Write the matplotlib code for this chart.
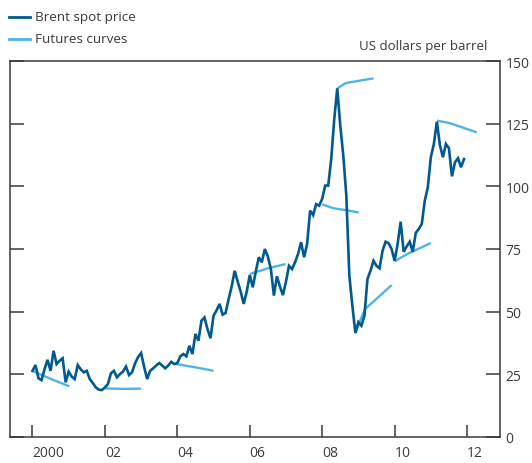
import matplotlib
matplotlib.use("Agg")
import matplotlib.pyplot as plt
from matplotlib.lines import Line2D
import numpy as np

plt.rcParams['font.family'] = ['Open Sans', 'DejaVu Sans']

# Brent spot price, monthly, Jan 2000 - Dec 2011 (US$ per barrel)
spot_2000 = [26.4, 28.7, 23.4, 22.7, 27.0, 30.8, 26.4, 34.4, 29.1, 30.4, 31.4, 21.8]
spot_2001 = [26.1, 24.1, 23.1, 28.7, 27.0, 25.8, 26.4, 23.1, 21.5, 19.8, 18.9, 18.7]
spot_2002 = [19.8, 21.1, 25.4, 26.4, 23.8, 25.1, 26.1, 28.1, 24.7, 25.8, 29.4, 31.9]
spot_2003 = [33.5, 28.0, 23.1, 26.4, 27.4, 28.5, 29.5, 28.5, 27.4, 28.5, 30.0, 29.1]
spot_2004 = [29.5, 32.2, 33.1, 32.2, 36.4, 33.1, 41.1, 38.4, 46.4, 47.7, 43.0, 39.4]
spot_2005 = [48.4, 50.5, 53.1, 48.8, 49.5, 55.0, 60.0, 66.3, 62.0, 58.0, 53.1, 58.0]
spot_2006 = [64.6, 59.7, 66.0, 71.7, 69.7, 75.0, 72.0, 67.0, 56.4, 64.1, 60.0, 56.6]
spot_2007 = [62.0, 68.3, 67.0, 69.7, 73.0, 77.7, 71.7, 77.0, 90.3, 88.5, 92.9, 92.3]
spot_2008 = [95.0, 100.3, 100.3, 110.9, 126.8, 139.1, 124.2, 112.2, 96.3, 64.3, 52.4, 41.5]
spot_2009 = [45.8, 44.4, 48.4, 63.0, 66.3, 70.3, 68.3, 67.3, 74.3, 77.9, 77.3, 75.0]
spot_2010 = [70.3, 77.0, 85.9, 73.9, 76.0, 77.9, 73.9, 81.4, 83.0, 85.0, 94.3, 99.6]
spot_2011 = [111.6, 116.9, 125.8, 116.5, 111.6, 116.9, 115.2, 104.0, 109.6, 111.2, 107.6, 110.9]
spot_start_year = 2000

# Futures curves: (decimal-year dates, US$ per barrel)
fut1_x = [2000.0, 2000.5, 2001.02]
fut1_y = [26.4, 23.2, 20.2]
fut2_x = [2002.0, 2002.5, 2003.0]
fut2_y = [19.4, 19.2, 19.3]
fut3_x = [2003.97, 2004.5, 2005.0]
fut3_y = [29.1, 27.8, 26.4]
fut4_x = [2006.0, 2006.5, 2006.99]
fut4_y = [65.0, 67.3, 69.0]
fut5_x = [2008.0, 2008.3, 2008.65, 2009.01]
fut5_y = [92.8, 91.3, 90.5, 89.6]
fut6_x = [2008.42, 2008.65, 2009.42]
fut6_y = [139.1, 141.2, 143.1]
fut7_x = [2008.92, 2009.05, 2009.18, 2009.92]
fut7_y = [41.5, 46.5, 51.0, 60.6]
fut8_x = [2010.0, 2010.35, 2011.0]
fut8_y = [70.1, 73.0, 77.4]
fut9_x = [2011.17, 2011.53, 2012.27]
fut9_y = [126.2, 125.2, 121.5]

xtick_vals = [2000, 2002, 2004, 2006, 2008, 2010, 2012]
xtick_labels = ["2000", "02", "04", "06", "08", "10", "12"]
ytick_vals = [0, 25, 50, 75, 100, 125, 150]

DARK = "#005a8f"
LIGHT = "#4fb3e8"
GREY = "#3a3a3a"

spot = np.array(spot_2000 + spot_2001 + spot_2002 + spot_2003 + spot_2004 + spot_2005 +
                spot_2006 + spot_2007 + spot_2008 + spot_2009 + spot_2010 + spot_2011)
spot_x = spot_start_year + np.arange(len(spot)) / 12.0

fig = plt.figure(figsize=(5.32, 4.64), dpi=100)
ax = fig.add_axes([10 / 532, 26 / 464, 490 / 532, 376 / 464])

futures = [(fut1_x, fut1_y), (fut2_x, fut2_y), (fut3_x, fut3_y), (fut4_x, fut4_y),
           (fut5_x, fut5_y), (fut6_x, fut6_y), (fut7_x, fut7_y), (fut8_x, fut8_y),
           (fut9_x, fut9_y)]
for fx, fy in futures:
    ax.plot(fx, fy, color=LIGHT, lw=1.7, solid_capstyle='butt', zorder=2)
ax.plot(spot_x, spot, color=DARK, lw=1.9, solid_joinstyle='miter', zorder=3)

ax.set_xlim(1999.38, 2012.91)
ax.set_ylim(0, 150)
ax.set_xticks(xtick_vals)
ax.set_xticklabels(xtick_labels, ha='left')
ax.set_yticks(ytick_vals)

for s in ax.spines.values():
    s.set_color(GREY)
    s.set_linewidth(1.1)

ax.tick_params(axis='x', direction='in', length=9, width=1.1, color=GREY,
               labelsize=10, labelcolor=GREY, pad=6)
ax.tick_params(axis='y', direction='in', length=10, width=1.1, color=GREY,
               left=True, right=True, labelleft=False, labelright=True,
               labelsize=10, labelcolor=GREY, pad=4)

fig.text(487 / 532, 1 - 47 / 464, "US dollars per barrel", ha='right', va='center',
         fontsize=9.5, color=GREY)

# legend
for yy, col, lab in [(18, DARK, "Brent spot price"), (39.5, LIGHT, "Futures curves")]:
    yf = 1 - yy / 464
    fig.add_artist(Line2D([8.5 / 532, 30 / 532], [yf, yf], color=col, lw=2.0,
                          transform=fig.transFigure))
    fig.text(35 / 532, yf, lab, ha='left', va='center', fontsize=9.7, color=GREY)

fig.savefig("out.png", dpi=100)
